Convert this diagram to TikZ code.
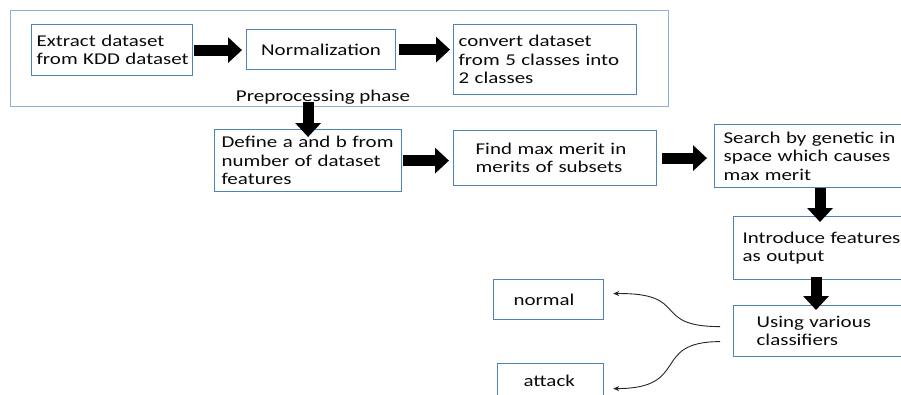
\documentclass[tikz,border=0pt]{standalone}
\usepackage{fontspec}
\setmainfont{Carlito}[FakeStretch=1.27]
\usetikzlibrary{arrows.meta,calc}
\definecolor{boxblue}{RGB}{79,129,189}
\definecolor{outerblue}{RGB}{141,176,216}
\definecolor{txt}{RGB}{10,10,10}
\newcommand\Ln[1]{\mbox{#1}}
\begin{document}
\begin{tikzpicture}[x=1pt,y=-1pt,
  box/.style={draw=boxblue, line width=1.2pt, rectangle, anchor=north west, inner ysep=0pt,
    align=left, text=txt, font=\fontsize{16.5pt}{18.4pt}\selectfont},
  outerframe/.style={draw=outerblue, line width=1pt, rectangle, anchor=north west, inner sep=0pt},
  lbl/.style={text=txt, font=\fontsize{16.5pt}{18.4pt}\selectfont, inner sep=0pt},
  blockarrow/.style={line width=11pt, -{Triangle[length=14pt,width=25pt]}, black},
  curvearrow/.style={line width=0.9pt, -{Stealth[length=6pt,width=5pt]}, black!85}]
\clip (0,0) rectangle (901,394);
% preprocessing frame
\node[outerframe, minimum width=658pt, minimum height=96pt] (phase) at (10,10) {};
\node[lbl, anchor=base] (phaselbl) at (323,101) {Preprocessing phase};
% boxes
\node[box, inner xsep=5pt, text width=151pt, minimum height=51pt] (ex) at (31,24)
  {\Ln{Extract dataset}\\\Ln{from KDD dataset}};
\node[box, align=center, inner xsep=5pt, text width=139pt, minimum height=40pt] (no) at (246,29)
  {\Ln{Normalization}};
\node[box, inner xsep=5pt, text width=173pt, minimum height=70pt] (cv) at (453,24)
  {\Ln{convert dataset}\\\Ln{from 5 classes into}\\\Ln{2 classes}};
\node[box, inner xsep=7pt, text width=173pt, minimum height=62pt] (de) at (214,129)
  {\Ln{Define a and b from}\\\Ln{number of dataset}\\\Ln{features}};
\node[box, inner xsep=22pt, text width=159pt, minimum height=55pt] (fi) at (453,130)
  {\Ln{Find max merit in}\\\Ln{merits of subsets}};
\node[box, inner xsep=9pt, text width=262pt, minimum height=63pt] (se) at (714,124)
  {\Ln{Search by genetic in}\\\Ln{space which causes}\\\Ln{max merit}};
\node[box, inner xsep=9pt, text width=262pt, minimum height=63pt] (in) at (733,216)
  {\Ln{Introduce features}\\\Ln{as output}};
\node[box, inner xsep=23pt, text width=234pt, minimum height=51pt] (cl) at (733,305)
  {\Ln{Using various}\\\Ln{classifiers}};
\node[box, inner xsep=20pt, text width=70pt, minimum height=40pt] (nm) at (493,279)
  {\Ln{normal}};
\node[box, inner xsep=26pt, text width=54pt, minimum height=34pt] (at) at (497,363)
  {\Ln{attack}};
% block arrows
\coordinate (xa) at (820,0);
\coordinate (xb) at (816,0);
\draw[blockarrow] ([xshift=1pt]ex.east) -- ([xshift=-4pt]ex.east -| no.west);
\draw[blockarrow] ([xshift=3pt]no.east) -- ([xshift=-3pt]no.east -| cv.west);
\draw[blockarrow] ([yshift=5pt]phase.south -| de.north) -- ([yshift=-8pt]de.north);
\draw[blockarrow] ([xshift=1pt]de.east) -- ([xshift=-4pt]de.east -| fi.west);
\draw[blockarrow] ([xshift=5pt]fi.east) -- ([xshift=-7pt]fi.east -| se.west);
\draw[blockarrow] (se.south -| xa) -- ([yshift=-6pt]in.north -| xa);
\draw[blockarrow] ([yshift=3pt]in.south -| xb) -- ([yshift=-5pt]cl.north -| xb);
% curved outputs
\draw[curvearrow] ($(cl.west)+(-13,-4.5)$) .. controls +(-70,0) and +(78,-1) .. ($(nm.east)+(9,-6)$);
\draw[curvearrow] ($(cl.west)+(-13,10.5)$) .. controls +(-70,0) and +(78,0) .. ($(at.east)+(9,8)$);
\end{tikzpicture}
\end{document}
